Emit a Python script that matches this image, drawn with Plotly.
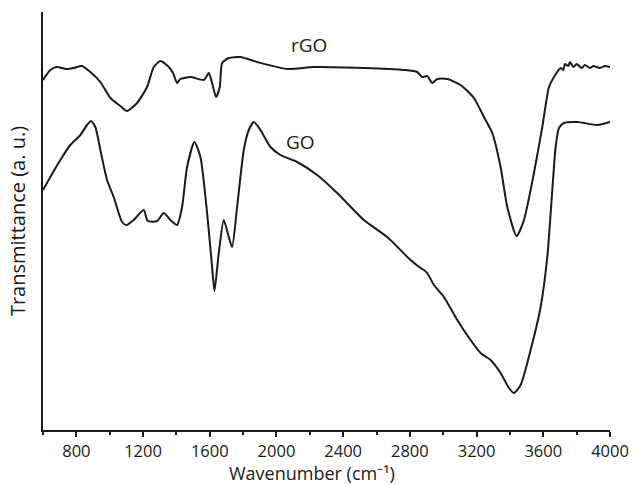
import plotly.graph_objects as go

# rGO spectrum (wavenumber, arbitrary transmittance)
rgo_wn = [600, 644, 682, 740, 784, 834, 884, 944, 1004, 1064, 1104, 1164, 1224, 1264, 1304,
          1354, 1380, 1404, 1424, 1484, 1564, 1594, 1614, 1638, 1660, 1674, 1714, 1784, 1884,
          2064, 2224, 2524, 2764, 2844, 2874, 2904, 2934, 2964, 3024, 3104, 3184, 3244, 3294,
          3344, 3384, 3440, 3484, 3544, 3594, 3634, 3664, 3704, 3720, 3730, 3750, 3760, 3780,
          3800, 3830, 3850, 3880, 3900, 3940, 3970, 4000]
rgo_t = [350, 360, 363, 361, 362, 364, 358, 348, 332, 324, 319, 327, 343, 363, 369,
         363, 357, 347, 351, 353, 350, 357, 347, 333, 343, 367, 372, 373, 368,
         361, 363, 362, 360, 358, 353, 354, 347, 351, 351, 345, 332, 313, 297,
         263, 223, 194, 210, 257, 303, 343, 353, 362, 360, 366, 364, 368, 363,
         366, 362, 365, 362, 364, 362, 364, 363]

# GO spectrum
go_wn = [600, 644, 704, 764, 824, 864, 888, 914, 944, 984, 1024, 1074, 1100, 1144, 1204,
         1228, 1284, 1324, 1364, 1404, 1434, 1464, 1508, 1544, 1584, 1614, 1628, 1654, 1684,
         1714, 1734, 1764, 1804, 1834, 1864, 1904, 1964, 2024, 2124, 2244, 2364, 2524, 2664,
         2804, 2864, 2884, 2904, 2944, 3004, 3084, 3164, 3224, 3284, 3344, 3394, 3424, 3464,
         3524, 3584, 3624, 3654, 3674, 3694, 3724, 3804, 3924, 4000]
go_t = [240, 253, 270, 285, 295, 305, 309, 303, 280, 250, 233, 208, 205, 210, 220,
        209, 209, 217, 210, 205, 223, 263, 288, 273, 217, 163, 139, 177, 210,
        193, 183, 223, 280, 300, 308, 300, 283, 275, 268, 255, 237, 210, 193,
        170, 162, 160, 157, 145, 133, 110, 90, 77, 70, 57, 42, 37, 45,
        80, 123, 173, 240, 283, 302, 307, 308, 305, 308]

x_ticks = [800, 1200, 1600, 2000, 2400, 2800, 3200, 3600, 4000]

FONT = "Open Sans"
INK = "#1a1a1a"

fig = go.Figure()
fig.add_trace(go.Scatter(x=rgo_wn, y=rgo_t, mode="lines", name="rGO",
                         line=dict(color=INK, width=2, shape="spline", smoothing=0.6)))
fig.add_trace(go.Scatter(x=go_wn, y=go_t, mode="lines", name="GO",
                         line=dict(color=INK, width=2, shape="spline", smoothing=0.6)))

fig.add_annotation(x=2195, y=385, text="rGO", showarrow=False,
                   font=dict(family=FONT, size=19, color=INK))
fig.add_annotation(x=2144, y=288, text="GO", showarrow=False,
                   font=dict(family=FONT, size=19, color=INK))

# x-axis title placed as a paper-anchored annotation
fig.add_annotation(xref="paper", yref="paper", x=0.474, y=-0.104,
                   xanchor="center", yanchor="middle", showarrow=False,
                   text="Wavenumber (cm⁻¹)",
                   font=dict(family=FONT, size=18, color=INK))

fig.update_layout(
    width=633, height=485,
    margin=dict(l=43, r=23, t=12, b=55),
    paper_bgcolor="white", plot_bgcolor="white",
    showlegend=False,
    font=dict(family=FONT, size=16.5, color=INK),
    xaxis=dict(
        range=[600, 4000], tickvals=x_ticks, ticktext=[str(v) for v in x_ticks],
        automargin=False,
        showgrid=False, zeroline=False,
        showline=True, linecolor=INK, linewidth=2,
        ticks="outside", ticklen=5, tickwidth=1.5, tickcolor=INK,
        minor=dict(ticks="outside", ticklen=3, tickwidth=1.5, tickcolor=INK,
                   tick0=0, dtick=200),
        tickfont=dict(family=FONT, size=16.5, color=INK),
    ),
    yaxis=dict(
        range=[0, 418], automargin=False,
        showgrid=False, zeroline=False,
        showline=True, linecolor=INK, linewidth=2,
        showticklabels=False, ticks="",
        title=dict(text="Transmittance (a. u.)", standoff=10,
                   font=dict(family=FONT, size=20, color=INK)),
    ),
)

fig.write_html("out.html")
